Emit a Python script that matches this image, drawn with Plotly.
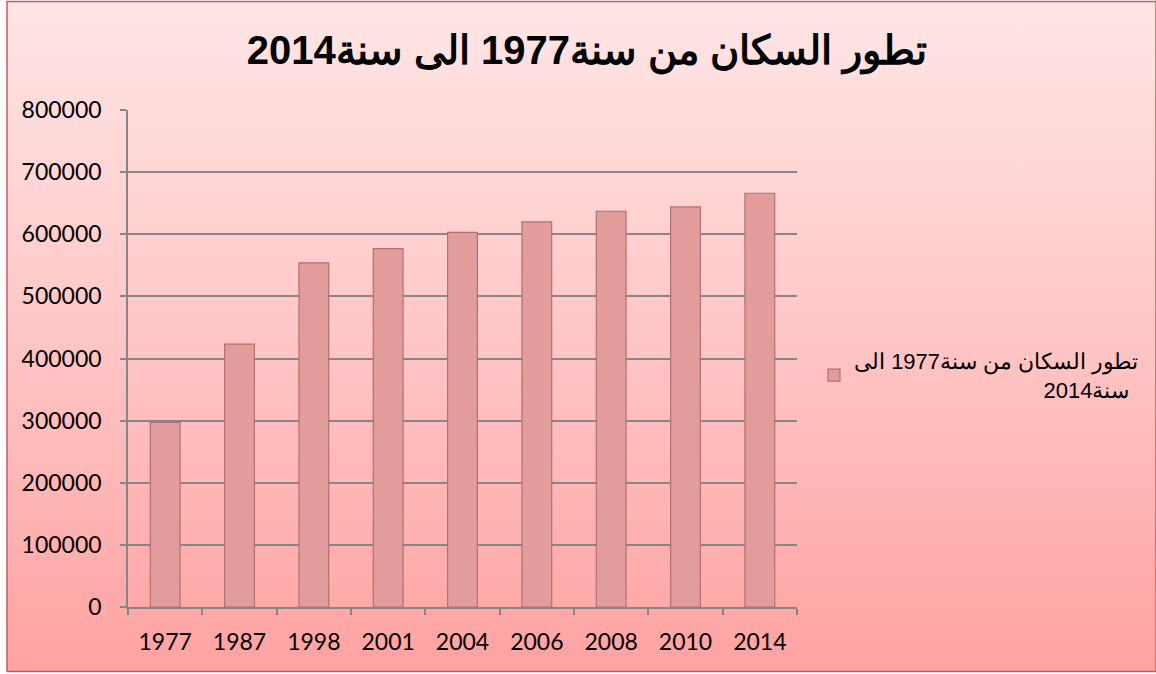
import base64
import plotly.graph_objects as go

years = ["1977", "1987", "1998", "2001", "2004", "2006", "2008", "2010", "2014"]
population = [297000, 423000, 554000, 577000, 603000, 620000, 637000, 644000, 666000]
y_ticks = [0, 100000, 200000, 300000, 400000, 500000, 600000, 700000, 800000]
title_text = "تطور السكان من سنة1977 الى سنة2014"
legend_line1 = "تطور السكان من سنة1977 الى"
legend_line2 = "سنة2014"

W, H = 1156, 674
L, R, T, B = 128, 359, 110, 67
pw, ph = W - L - R, H - T - B

svg = f'''<svg xmlns="http://www.w3.org/2000/svg" width="{W}" height="{H}" viewBox="0 0 {W} {H}" preserveAspectRatio="none">
<defs><linearGradient id="g" x1="0" y1="0" x2="0" y2="1">
<stop offset="0" stop-color="#ffe6e6"/><stop offset="0.5" stop-color="#ffc6c6"/><stop offset="1" stop-color="#ffa2a2"/>
</linearGradient></defs>
<rect x="0" y="0" width="{W}" height="{H}" fill="#ffffff"/>
<rect x="7" y="1.5" width="{W-7}" height="{H-4}" fill="url(#g)" stroke="#c45e5c" stroke-width="1.5"/>
</svg>'''
uri = "data:image/svg+xml;base64," + base64.b64encode(svg.encode()).decode()

pad = "\u00a0" * 31
series_name = legend_line1 + "<br>" + pad + legend_line2

fig = go.Figure()
fig.add_trace(go.Bar(
    x=years, y=population, name=series_name, showlegend=True,
    marker=dict(color="#e39c9c", line=dict(color="#b07070", width=1.2)),
    width=0.4,
))

fig.add_layout_image(dict(
    source=uri, xref="paper", yref="paper",
    x=-L / pw, y=(ph + T) / ph, sizex=W / pw, sizey=H / ph,
    xanchor="left", yanchor="top", sizing="stretch", layer="below",
))

fig.update_layout(
    width=W, height=H,
    margin=dict(l=L, r=R, t=T, b=B, autoexpand=False),
    paper_bgcolor="#ffffff", plot_bgcolor="#ffffff",
    title=dict(text=title_text, x=587 / W, xref="container", xanchor="center",
               y=1 - 50 / H, yref="container", yanchor="middle",
               font=dict(family="Arial, Liberation Sans", size=40, color="#000000", weight="bold")),
    legend=dict(x=(814 - L) / pw, y=(607 - 340) / ph, xanchor="left", yanchor="top",
                bgcolor="rgba(0,0,0,0)", font=dict(family="Arial, Liberation Sans", size=22, color="#000000"),
                itemwidth=30),
    showlegend=True,
    xaxis=dict(type="category", showgrid=False, showline=True, linecolor="#868686", linewidth=1.5,
               ticks="outside", tickson="boundaries", ticklen=6, tickcolor="#868686", tickwidth=1.5,
               tickfont=dict(family="Lato, Carlito, sans-serif", size=23, color="#000000"),
               ticklabelstandoff=14),
    yaxis=dict(range=[0, 800000], tickvals=y_ticks, ticktext=[str(v) for v in y_ticks],
               showgrid=True, gridcolor="#868686", gridwidth=1.5,
               showline=True, linecolor="#868686", linewidth=1.5, zeroline=False,
               ticks="outside", ticklen=6, tickcolor="#868686", tickwidth=1.5,
               tickfont=dict(family="Lato, Carlito, sans-serif", size=23, color="#000000"),
               ticklabelstandoff=14),
    bargap=0.6,
)

fig.write_html("out.html", config={"displayModeBar": False},
               post_script="document.body.style.margin='0';")
